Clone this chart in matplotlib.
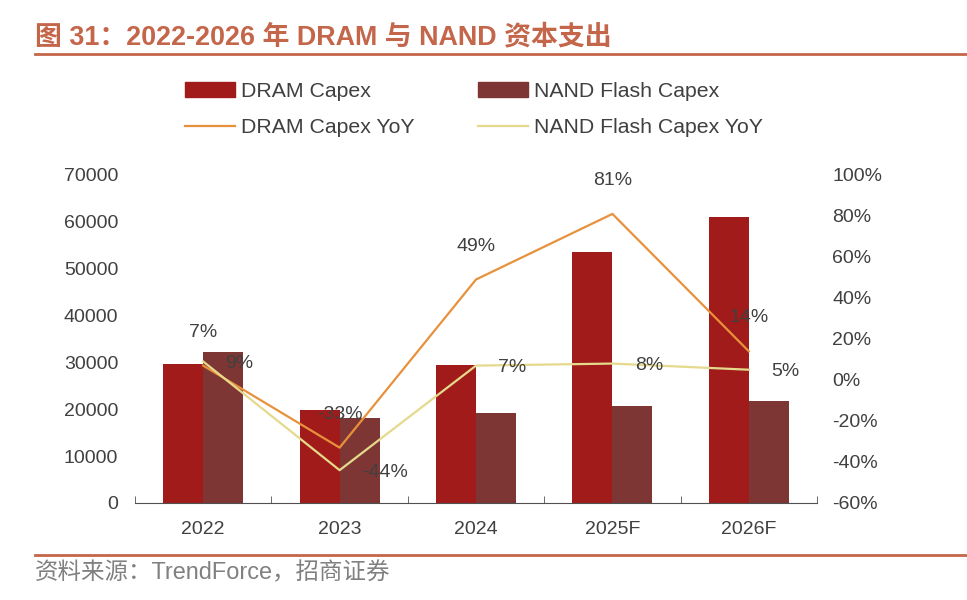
import matplotlib
matplotlib.use('Agg')
import matplotlib.pyplot as plt
import numpy as np
from matplotlib.patches import Patch
from matplotlib.lines import Line2D
from matplotlib.ticker import FuncFormatter

plt.rcParams['font.family'] = ['Liberation Sans', 'Noto Sans CJK SC', 'DejaVu Sans']

years = ['2022', '2023', '2024', '2025F', '2026F']
dram_capex = [29700, 19800, 29500, 53600, 61000]
nand_capex = [32200, 18100, 19200, 20700, 21800]
dram_yoy = [7, -33, 49, 81, 14]
nand_yoy = [9, -44, 7, 8, 5]

c_dram = '#A01B1A'
c_nand = '#7E3634'
c_dram_line = '#E8913C'
c_nand_line = '#E5D98C'
c_title = '#C4664A'
c_text = '#404040'

fig = plt.figure(figsize=(9.67, 6), dpi=100)
ax = fig.add_axes([0.1396, 0.1617, 0.7053, 0.5467])
ax2 = ax.twinx()

x = np.arange(len(years))
w = 0.293
ax.bar(x - w / 2, dram_capex, w, color=c_dram, zorder=2)
ax.bar(x + w / 2, nand_capex, w, color=c_nand, zorder=2)
ax.set_xlim(-0.5, len(years) - 0.5)
ax.set_ylim(0, 70000)
ax.set_yticks(range(0, 70001, 10000))

ax2.plot(x, dram_yoy, color=c_dram_line, lw=1.6, zorder=3)
ax2.plot(x, nand_yoy, color=c_nand_line, lw=1.6, zorder=3)
ax2.set_ylim(-60, 100)
ax2.set_yticks(range(-60, 101, 20))
ax2.yaxis.set_major_formatter(FuncFormatter(lambda v, p: '%d%%' % v))

# YoY labels: DRAM above the point, NAND to the right of it
for i, v in enumerate(dram_yoy):
    ax2.annotate('%d%%' % v, (x[i], v), xytext=(0, 24), textcoords='offset points',
                 ha='center', va='center', fontsize=14, color=c_text)
for i, v in enumerate(nand_yoy):
    ax2.annotate('%d%%' % v, (x[i], v), xytext=(16, -1.5), textcoords='offset points',
                 ha='left', va='center', fontsize=14, color=c_text)

for a in (ax, ax2):
    for s in ('top', 'left', 'right'):
        a.spines[s].set_visible(False)
    a.tick_params(axis='y', length=0, labelsize=14, labelcolor=c_text)
ax.tick_params(axis='y', pad=12)
ax2.tick_params(axis='y', pad=11)
ax2.spines['bottom'].set_visible(False)
ax.spines['bottom'].set_color('#505050')
ax.set_xticks(x)
ax.set_xticklabels(years)
ax.set_xticks(np.arange(-0.5, len(years), 1), minor=True)
ax.tick_params(axis='x', which='major', length=0, labelsize=14, labelcolor=c_text, pad=13)
ax.tick_params(axis='x', which='minor', direction='in', length=5, color='#505050')

handles = [Patch(color=c_dram), Line2D([], [], color=c_dram_line, lw=1.6),
           Patch(color=c_nand), Line2D([], [], color=c_nand_line, lw=1.6)]
labels = ['DRAM Capex', 'DRAM Capex YoY', 'NAND Flash Capex', 'NAND Flash Capex YoY']
fig.legend(handles, labels, ncol=2, loc='center', bbox_to_anchor=(0.49, 0.817),
           frameon=False, fontsize=15.3, handlelength=2.35, handleheight=0.7,
           handletextpad=0.28, columnspacing=3.0, labelspacing=0.8,
           labelcolor=c_text)

fig.text(0.036, 0.938, '图 31：2022-2026 年 DRAM 与 NAND 资本支出', fontsize=19.4,
         fontweight='bold', color=c_title, va='center', ha='left')
fig.add_artist(Line2D([0.036, 1.0], [0.910, 0.910], color=c_title, lw=2))
fig.add_artist(Line2D([0.036, 1.0], [0.075, 0.075], color=c_title, lw=2))
fig.text(0.036, 0.045, '资料来源：TrendForce，招商证券', fontsize=16.9,
         color='#808080', va='center', ha='left')

fig.savefig('out.png', dpi=100)
